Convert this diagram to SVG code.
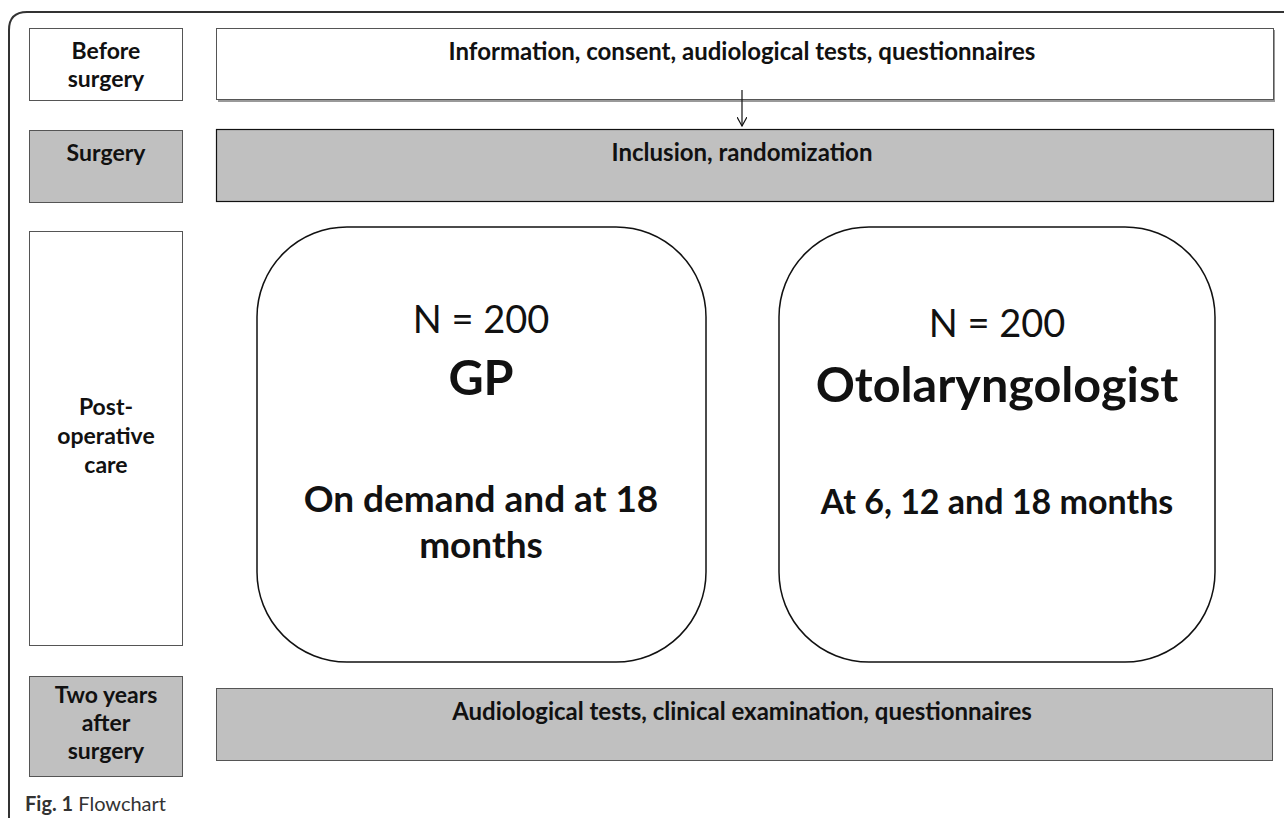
<svg xmlns="http://www.w3.org/2000/svg" width="1284" height="818" viewBox="0 0 1284 818">
<defs>
<style>
.lbl{font-family:"Lato","Open Sans","Liberation Sans",sans-serif;font-weight:bold;font-size:23px;fill:#111;text-anchor:middle}
.hdr{font-family:"Lato","Open Sans","Liberation Sans",sans-serif;font-weight:bold;font-size:24px;fill:#111;text-anchor:middle}
.box{stroke:#555;stroke-width:1}
.white{fill:#fff}
.grey{fill:#c0c0c0}
.round{fill:#fff;stroke:#111;stroke-width:1.5}
.n{font-family:"Lato","Open Sans","Liberation Sans",sans-serif;font-size:38px;fill:#111;text-anchor:middle}
.big{font-family:"Lato","Open Sans","Liberation Sans",sans-serif;font-weight:bold;font-size:48.5px;fill:#111;text-anchor:middle}
.mid{font-family:"Lato","Open Sans","Liberation Sans",sans-serif;font-weight:bold;font-size:34px;fill:#111;text-anchor:middle}
.mid2{font-family:"Lato","Open Sans","Liberation Sans",sans-serif;font-weight:bold;font-size:37px;fill:#111;text-anchor:middle}
.cap{font-family:"Lato","Open Sans","Liberation Sans",sans-serif;font-size:20px;fill:#333}
</style>
<marker id="arr" viewBox="0 0 10 10" refX="9" refY="5" markerWidth="10" markerHeight="10" markerUnits="userSpaceOnUse" orient="auto">
<path d="M0,0 L9,5 L0,10" fill="none" stroke="#111" stroke-width="1.2"/>
</marker>
</defs>
<rect width="1284" height="818" fill="#fff"/>
<path d="M9,818 V30 Q9,12 27,12 H1284" fill="none" stroke="#333" stroke-width="2"/>

<g id="before-label">
<rect x="29.5" y="28.5" width="153" height="72" class="box white"/>
<text class="lbl" x="106" y="59">Before</text>
<text class="lbl" x="106" y="87">surgery</text>
</g>
<g id="before-box">
<rect x="218" y="30" width="1057" height="72" fill="#999"/>
<rect x="216.5" y="28.5" width="1057" height="71" class="box white"/>
<text class="hdr" x="742" y="60">Information, consent, audiological tests, questionnaires</text>
</g>

<g id="surgery-label">
<rect x="29.5" y="130.5" width="153" height="72" class="box grey"/>
<text class="lbl" x="106" y="161">Surgery</text>
</g>
<g id="surgery-box">
<rect x="216.5" y="129.5" width="1057" height="72" class="grey" stroke="#111" stroke-width="1.2"/>
<text class="hdr" x="742" y="161">Inclusion, randomization</text>
</g>

<g id="postop-label">
<rect x="29.5" y="231.5" width="153" height="414" class="box white"/>
<text class="lbl" x="106" y="415">Post-</text>
<text class="lbl" x="106" y="444">operative</text>
<text class="lbl" x="106" y="473">care</text>
</g>

<g id="gp">
<rect x="257" y="227" width="449" height="435" rx="90" ry="90" class="round"/>
<text class="n" x="481" y="333">N = 200</text>
<text class="big" x="481" y="395">GP</text>
<text class="mid2" x="481" y="512">On demand and at 18</text>
<text class="mid2" x="481" y="558">months</text>
</g>

<g id="oto">
<rect x="779" y="227" width="436" height="435" rx="90" ry="90" class="round"/>
<text class="n" x="997" y="337">N = 200</text>
<text class="big" x="997" y="402">Otolaryngologist</text>
<text class="mid" x="997" y="514">At 6, 12 and 18 months</text>
</g>

<g id="twoyears-label">
<rect x="29.5" y="676.5" width="153" height="100" class="box grey"/>
<text class="lbl" x="106" y="703">Two years</text>
<text class="lbl" x="106" y="731">after</text>
<text class="lbl" x="106" y="759">surgery</text>
</g>
<g id="twoyears-box">
<rect x="216.5" y="688.5" width="1056" height="72" class="box grey"/>
<text class="hdr" x="742" y="720">Audiological tests, clinical examination, questionnaires</text>
</g>

<g id="connectors">
<line x1="742" y1="90" x2="742" y2="126" stroke="#111" stroke-width="1.2" marker-end="url(#arr)"/>
</g>

<text class="cap" x="25" y="811"><tspan font-weight="bold">Fig. 1</tspan> Flowchart</text>
</svg>
